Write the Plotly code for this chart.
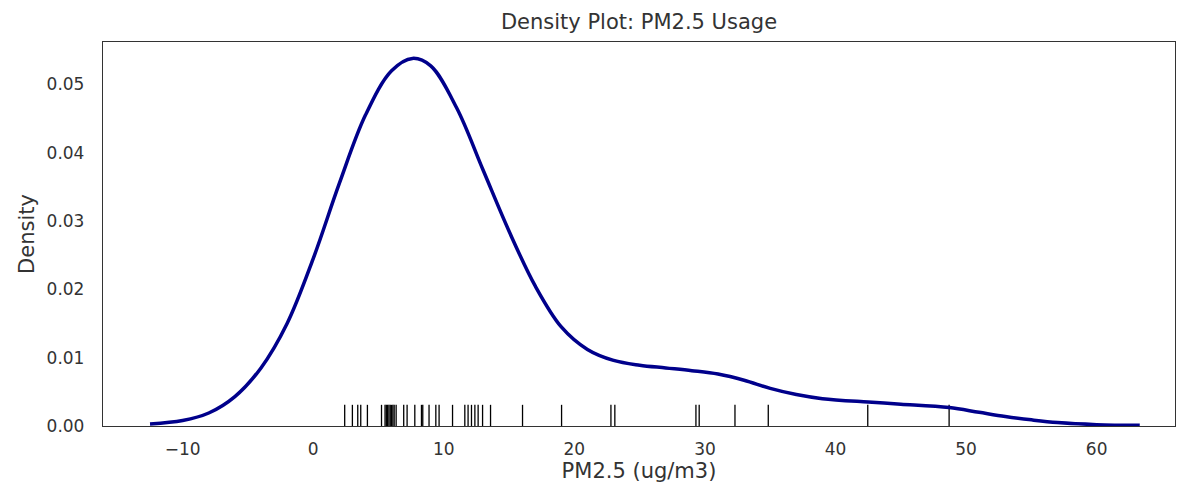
import plotly.graph_objects as go

# Density curve (x in ug/m3, density)
curve_x = [-12.5, -10, -8, -6, -4, -2, 0, 2, 4, 6, 7.6, 9, 11, 13, 15, 17, 19, 21, 23, 25,
           27, 29, 31, 33, 35, 37, 39, 42.5, 45, 48.7, 51, 53, 55, 57, 60, 63.3]
curve_y = [0.0003, 0.0008, 0.0019, 0.0043, 0.0085, 0.0150, 0.0245, 0.0355, 0.0455, 0.0520,
           0.0538, 0.0527, 0.0465, 0.0375, 0.0285, 0.0205, 0.0145, 0.0112, 0.0096, 0.0089,
           0.0085, 0.0081, 0.0076, 0.0067, 0.0055, 0.0046, 0.0040, 0.0035, 0.0032, 0.0027,
           0.0020, 0.0014, 0.0009, 0.0005, 0.0002, 0.0001]

# Rug observations
rug_values = [2.41, 3.00, 3.41, 3.64, 4.15, 5.23, 5.5, 5.6, 5.7, 5.8, 5.9, 6.0, 6.1, 6.2, 6.35,
              6.93, 7.19, 7.78, 8.29, 8.39, 8.87, 9.39, 9.64, 10.67, 11.61, 11.86, 12.12,
              12.38, 12.63, 12.97, 13.58, 16.03, 19.02, 22.80, 23.10, 29.31, 29.56, 32.30,
              34.85, 42.47, 48.70]
rug_height = 0.0031

x_ticks = [-10, 0, 10, 20, 30, 40, 50, 60]
y_ticks = [0.00, 0.01, 0.02, 0.03, 0.04, 0.05]

rx, ry = [], []
for v in rug_values:
    rx += [v, v, None]
    ry += [0, rug_height, None]

fig = go.Figure()
fig.add_trace(go.Scatter(x=rx, y=ry, mode="lines",
                         line=dict(color="black", width=1.3), hoverinfo="skip"))
fig.add_trace(go.Scatter(x=curve_x, y=curve_y, mode="lines", line_shape="spline",
                         line=dict(color="#00008B", width=3.5)))

# page body has an 8px margin, so offsets compensate for it
L, R, T, B = 95, 22, 34, 70
font = "DejaVu Sans, sans-serif"
fig.update_layout(
    width=1189, height=488,
    margin=dict(l=L, r=R, t=T, b=B, autoexpand=False),
    paper_bgcolor="white", plot_bgcolor="white",
    showlegend=False,
    font=dict(family=font, size=17, color="#333333"),
    title=dict(text="Density Plot: PM2.5 Usage", x=(L + (1189 - R)) / 2 / 1189, xanchor="center",
               y=1 - 14 / 488, yanchor="middle", font=dict(size=21, color="#333333")),
)
fig.update_xaxes(
    range=[-16.1, 66.0], tickvals=x_ticks,
    ticktext=[("−" + str(-t)) if t < 0 else str(t) for t in x_ticks],
    showgrid=False, zeroline=False, showline=True, linecolor="#333333", linewidth=1.3,
    mirror=True, ticks="outside", ticklen=7, tickcolor="rgba(0,0,0,0)",
    title=dict(text="PM2.5 (ug/m3)", standoff=1, font=dict(size=21)),
)
fig.update_yaxes(
    range=[0, 0.0562], tickvals=y_ticks, ticktext=[f"{t:.2f}" for t in y_ticks],
    showgrid=False, zeroline=False, showline=True, linecolor="#333333", linewidth=1.3,
    mirror=True, ticks="outside", ticklen=14, tickcolor="rgba(0,0,0,0)",
    title=dict(text="Density", standoff=6, font=dict(size=21)),
)

fig.write_html("out.html")
